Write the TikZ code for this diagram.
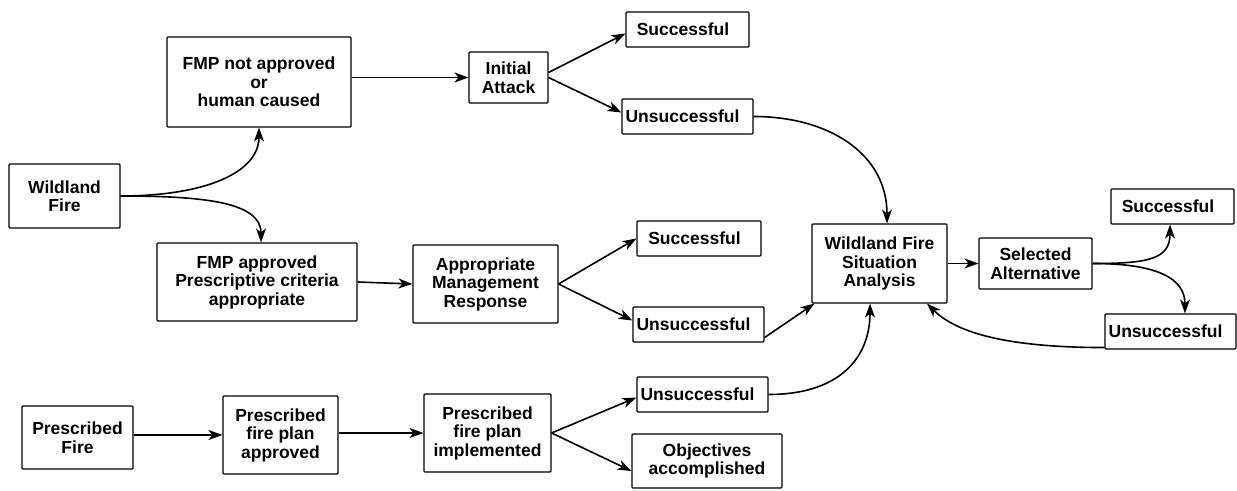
\documentclass[tikz,border=0pt]{standalone}
\usepackage{fontspec}
\setmainfont{Liberation Sans}
\usetikzlibrary{arrows.meta}
\tikzset{
  box/.style={draw=black, line width=1.1pt, rounded corners=1pt, inner sep=1pt, align=center,
    font=\bfseries\fontsize{17.5}{18.5}\selectfont},
  conn/.style={line width=1.6pt, -{Stealth[length=14pt,width=10pt,inset=4pt]}},
}
\begin{document}
\begin{tikzpicture}[x=1pt,y=1pt]
\useasboundingbox (0,0) rectangle (1237,490);
% nodes
\node[box, minimum width=111pt, minimum height=64pt] (wf) at (64.5,294) {Wildland\\Fire};
\node[box, minimum width=184pt, minimum height=90pt] (fmpn) at (259,408) {FMP not approved\\or\\human caused};
\node[box, minimum width=200pt, minimum height=78pt] (fmpa) at (257,208) {FMP approved\\Prescriptive criteria\\appropriate};
\node[box, minimum width=79pt, minimum height=51pt] (ia) at (508.5,412.5) {Initial\\Attack};
\node[box, minimum width=123pt, minimum height=35pt] (s1) at (687.5,460.5) {Successful\hspace{9pt}};
\node[box, minimum width=131pt, minimum height=35pt] (u1) at (687.5,373.5) {Unsuccessful\hspace{10pt}};
\node[box, minimum width=145pt, minimum height=78pt] (amr) at (485.5,206) {Appropriate\\Management\\Response};
\node[box, minimum width=124pt, minimum height=35pt] (s2) at (699,251.5) {Successful\hspace{9pt}};
\node[box, minimum width=131pt, minimum height=35pt] (u2) at (698.5,165.5) {Unsuccessful\hspace{10pt}};
\node[box, minimum width=111pt, minimum height=63pt] (pf) at (77.5,52.5) {Prescribed\\Fire};
\node[box, minimum width=115pt, minimum height=78pt] (pfa) at (280.5,55) {Prescribed\\fire plan\\approved};
\node[box, minimum width=127pt, minimum height=78pt] (pfi) at (487.5,57) {Prescribed\\fire plan\\implemented};
\node[box, minimum width=131pt, minimum height=35pt] (u3) at (702.5,95.5) {Unsuccessful\hspace{10pt}};
\node[box, minimum width=150pt, minimum height=54pt] (oa) at (707,29) {Objectives\\accomplished};
\node[box, minimum width=135pt, minimum height=79pt] (wfsa) at (879.5,226.5) {Wildland Fire\\Situation\\Analysis};
\node[box, minimum width=113pt, minimum height=51pt] (sa) at (1035.5,226.5) {Selected\\Alternative};
\node[box, minimum width=123pt, minimum height=35pt] (s3) at (1172.5,283.5) {Successful\hspace{9pt}};
\node[box, minimum width=131pt, minimum height=35pt] (u4) at (1170.5,158.5) {Unsuccessful\hspace{10pt}};
% connectors
\draw[conn] (wf.east) .. controls +(85,0) and +(0,-45) .. (fmpn.south);
\draw[conn] (wf.east) .. controls +(85,0) and +(0,40) .. ([xshift=4pt]fmpa.north);
\draw[conn] (fmpn.east |- ia.west) -- (ia.west);
\draw[conn] ([yshift=5pt]ia.east) -- ([yshift=-4pt]s1.west);
\draw[conn] (ia.east) -- ([yshift=4pt]u1.west);
\draw[conn] (u1.east) .. controls +(75,0) and +(0,70) .. ([xshift=7.5pt]wfsa.north);
\draw[conn] (fmpa.east) -- (amr.west);
\draw[conn] (amr.east) -- (s2.west);
\draw[conn] (amr.east) -- ([yshift=4pt]u2.west);
\draw[conn] ([yshift=5pt]u2.south east) -- ([xshift=3pt]wfsa.south west);
\draw[conn] (u3.east) .. controls +(70,0) and +(0,-55) .. ([xshift=-9.5pt]wfsa.south);
\draw[conn] (pf.east |- pfa.west) -- (pfa.west);
\draw[conn] (pfa.east |- pfi.west) -- (pfi.west);
\draw[conn] (pfi.east) -- ([yshift=-3pt]u3.west);
\draw[conn] (pfi.east) -- ([yshift=-10pt]oa.west);
\draw[conn] (wfsa.east) -- (sa.west);
\draw[conn] (sa.east) .. controls +(55,0) and +(0,-35) .. ([xshift=-2.5pt]s3.south);
\draw[conn] (sa.east) .. controls +(65,0) and +(0,35) .. ([xshift=14.5pt]u4.north);
\draw[conn] ([yshift=2pt]u4.south west) .. controls +(-110,0) and +(25,-25) .. ([xshift=47.5pt]wfsa.south);
\end{tikzpicture}
\end{document}
